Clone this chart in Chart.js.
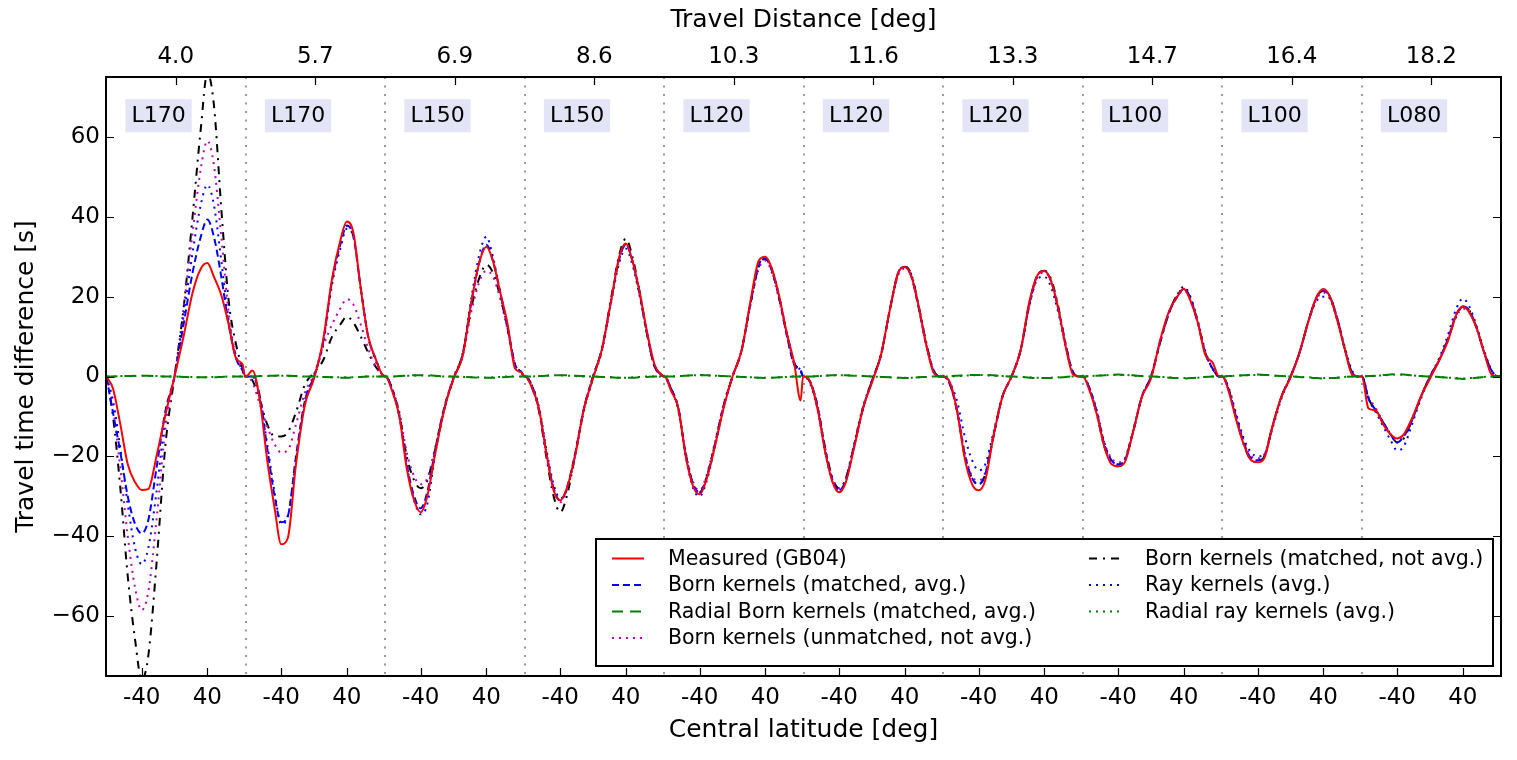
<!DOCTYPE html>
<html>
<head>
<meta charset="utf-8">
<title>Travel time difference vs central latitude</title>
<script src="https://cdn.jsdelivr.net/npm/chart.js@4.4.1/dist/chart.umd.min.js"></script>
<style>
  html, body { margin: 0; padding: 0; background: #fff; }
  canvas { display: block; }
</style>
</head>
<body>
<canvas id="chart" width="1517" height="760"></canvas>
<script>
// latitudes (deg) sampled in every panel
const LATITUDES = [-83, -75, -66, -57, -48, -40, -32, -22, -11, 0, 11, 22, 32, 40, 48, 57, 66, 75, 83, 86];
const DISTANCES = ['4.0', '5.7', '6.9', '8.6', '10.3', '11.6', '13.3', '14.7', '16.4', '18.2'];
const DEGREES = ['L170', 'L170', 'L150', 'L150', 'L120', 'L120', 'L120', 'L100', 'L100', 'L080'];
const LAT_TICKS = [-40, 40];
const TIME_TICKS = [-60, -40, -20, 0, 20, 40, 60];

// one row per panel, values in s
const measured = [
  [0, -3, -12, -22, -26.5, -28.4, -28.2, -20, -9.5, 0, 10, 21, 27, 28.4, 25, 20.4, 13, 4.5, 3, 0],
  [0, 1.5, -6, -21, -33, -42, -40.5, -22, -7, -0.5, 9, 24.5, 34, 38.8, 36, 22, 10, 4.5, 0.5, 0],
  [0, -3.5, -10, -23, -31, -34, -30, -19, -8, -0.5, 5, 19, 29, 32.5, 29, 21, 13, 2, 1, 0],
  [0, -2.5, -8, -19, -28.5, -31, -28, -20, -8, -0.5, 7, 19, 30, 33.3, 29, 21, 11, 3, 0.5, 0],
  [0, -3.5, -8, -20, -27.5, -29.5, -26, -18, -8, 0, 6.5, 19, 29, 30, 27, 20, 11, 3.5, -6, 0],
  [0, -1.5, -8.5, -19, -26.5, -29, -26.5, -18, -8, -1.5, 5.5, 17, 26, 27.4, 25, 17.5, 8, 1, 0, 0],
  [0, -1.5, -9, -20.5, -27, -28.5, -26, -15, -5, 0, 6.5, 19, 25.5, 26.4, 24, 17, 7.5, 0.5, 0, 0],
  [0, -3.5, -9.5, -17.5, -22, -22.5, -21.5, -14, -5, -0.5, 9, 16.4, 20, 21.9, 19, 13.5, 5.5, 3.5, 0, 0],
  [0, -4, -11, -17, -21, -21.5, -20.5, -12.5, -5, -0.3, 6, 14, 20, 21.9, 20, 14, 7, 0.5, 0, 0],
  [0, -8, -8.5, -12, -14.5, -15.5, -14.5, -10.5, -5, -0.5, 4, 9, 15.5, 17.5, 16, 12, 6, 0.5, 0, 0]
];

const bornAvg = [
  [0, -9, -19, -30, -37, -39.3, -36, -23, -8.5, 0, 13, 26, 35, 39.3, 35, 25, 13, 4.5, 1.5, 0],
  [0, 0, -5, -18, -30, -36.5, -35, -20, -6, 0, 8.5, 24, 33, 37.8, 35, 22, 10, 4.5, 0.5, 0],
  [0, -3, -10, -22, -30, -33, -29, -18, -7.5, -0.5, 5.5, 19, 29, 33, 29, 21, 12, 3, 1, 0],
  [0, -2, -8, -19, -28, -31, -28, -19.5, -8, 0, 7, 19, 29.5, 33, 29, 20.5, 10.5, 2.5, 0.5, 0],
  [0, -3, -8, -19.5, -27, -29, -25.5, -17.5, -7.5, 0, 6.5, 18.5, 28, 29.5, 26.5, 19.5, 10.5, 3, 1.5, 0],
  [0, -1.5, -8, -18.5, -26, -28.5, -26, -17.5, -8, -1, 5.5, 17, 26, 27.4, 25, 17, 8, 1.5, 0, 0],
  [0, -2, -9, -19.5, -25.5, -27, -24.5, -15, -5, 0, 6.5, 18.5, 25.5, 26.4, 24, 17, 8, 1, 0, 0],
  [0, -3, -9, -17, -21, -22, -21, -14, -5, 0, 8.5, 16, 20, 22, 19.5, 13.5, 6, 2, 0, 0],
  [0, -3.5, -10.5, -16.5, -20.5, -21, -20, -12.5, -5, 0, 6, 14, 20, 21.5, 20, 14.5, 7, 1, 0, 0],
  [0, -5.5, -8.5, -11.5, -14.5, -16.5, -15, -11, -5, 0, 4, 9.5, 15.5, 17.5, 16.5, 12, 6, 1.5, 0, 0]
];

const radialBorn = [
  [0, 0, 0.1, 0.1, 0.2, 0.2, 0.2, 0.1, 0, 0, -0.1, -0.2, -0.2, -0.2, -0.2, -0.1, 0, 0, 0, 0],
  [0, 0, 0.1, 0.2, 0.2, 0.3, 0.2, 0.1, 0, 0, -0.1, -0.2, -0.3, -0.3, -0.2, -0.1, 0, 0, 0, 0],
  [0, 0, 0.1, 0.2, 0.3, 0.3, 0.3, 0.2, 0, 0, -0.1, -0.2, -0.3, -0.3, -0.3, -0.2, -0.1, 0, 0, 0],
  [0, 0, 0.1, 0.2, 0.3, 0.3, 0.3, 0.2, 0.1, 0, -0.1, -0.2, -0.3, -0.3, -0.3, -0.2, -0.1, 0, 0, 0],
  [0, 0, 0.1, 0.2, 0.3, 0.4, 0.3, 0.2, 0.1, 0, -0.1, -0.2, -0.3, -0.4, -0.3, -0.2, -0.1, 0, 0, 0],
  [0, 0, 0.1, 0.2, 0.3, 0.4, 0.3, 0.2, 0.1, 0, -0.1, -0.2, -0.3, -0.4, -0.3, -0.2, -0.1, 0, 0, 0],
  [0, 0.1, 0.2, 0.3, 0.4, 0.4, 0.4, 0.3, 0.1, 0, -0.1, -0.3, -0.4, -0.4, -0.4, -0.3, -0.1, 0, 0, 0],
  [0, 0.1, 0.2, 0.3, 0.4, 0.5, 0.4, 0.3, 0.1, 0, -0.1, -0.3, -0.4, -0.5, -0.4, -0.3, -0.1, 0, 0, 0],
  [0, 0.1, 0.2, 0.3, 0.4, 0.5, 0.4, 0.3, 0.1, 0, -0.1, -0.3, -0.4, -0.5, -0.4, -0.3, -0.1, 0, 0, 0],
  [0, 0.1, 0.2, 0.4, 0.5, 0.6, 0.5, 0.3, 0.1, 0, -0.1, -0.3, -0.5, -0.6, -0.5, -0.3, -0.1, 0, 0, 0]
];

const bornUnmatched = [
  [0, -8, -23, -40, -53, -58.5, -54, -36, -13, 0, 17, 36, 52, 59, 53, 35, 16, 5, 1.5, 0],
  [0, -1.5, -7, -12.5, -17, -19, -18.5, -12, -4, 0.5, 7.5, 13, 17, 19.4, 18, 13, 7, 2.5, 0.5, 0],
  [0, -3, -9, -19, -25, -27, -25.5, -17.5, -8, 0, 5, 16.5, 24, 26.5, 25, 19.5, 11.5, 3, 1, 0],
  [0, -2, -8, -19, -28, -31.5, -28.5, -19.5, -8, 0, 7, 19, 29.5, 33, 29, 20.5, 10.5, 2.5, 0.5, 0],
  [0, -3, -8, -19, -26.5, -28.5, -25, -17, -7, 0, 6.5, 18, 27, 29, 26, 19, 10.5, 3, 1.5, 0],
  [0, -1.5, -7.5, -18, -25.5, -28, -25.5, -17, -7.5, -1, 5.5, 17, 25.5, 27, 25, 17, 8, 1.5, 0, 0],
  [0, -2, -8.5, -19, -25, -26, -24, -14.5, -5, 0, 6.5, 18, 25, 26, 24, 17, 8, 1, 0, 0],
  [0, -3, -9, -16.5, -20.5, -21.5, -20.5, -13.5, -5, 0, 8.5, 16, 20, 21.5, 19.5, 13.5, 6, 2, 0, 0],
  [0, -3.5, -10, -16, -20, -20.5, -19.5, -12.5, -5, 0, 6, 14, 19.5, 21, 19.5, 14, 7, 1, 0, 0],
  [0, -5, -8, -11.5, -14.5, -16, -15, -11, -5, 0, 4, 9.5, 15, 17, 16, 12, 6, 1.5, 0, 0]
];

const bornNotAvg = [
  [0, -10, -28, -50, -66, -76, -70, -47, -17, 0, 17, 40, 62, 76, 68, 42, 19, 8, 2, 0],
  [0, -1, -6, -12, -15, -15, -14, -9, -2, 1, 4, 10, 13, 15, 13.5, 10, 6, 2.5, 0.5, 0],
  [0, -3, -9.5, -20, -26, -28, -26, -18, -8, -0.5, 5.5, 17.5, 25, 28, 26, 20, 12, 3, 1, 0],
  [0, -2.5, -8.5, -20, -30, -34, -30, -20, -8, 0, 7, 19.5, 30.5, 34.5, 30, 21, 10.5, 2.5, 0.5, 0],
  [0, -3, -8, -19.5, -27, -29, -25.5, -17.5, -7.5, 0, 6.5, 18.5, 27.5, 29.5, 26.5, 19.5, 11, 3.5, 1.5, 0],
  [0, -1.5, -8, -18, -25.5, -28, -25.5, -17.5, -8, -1, 5.5, 17, 26, 27.5, 25.5, 17.5, 8.5, 1.5, 0, 0],
  [0, -2, -9, -20, -25.5, -27, -24.5, -15, -5, 0, 6.5, 18.5, 25.5, 26.5, 24.5, 17.5, 8, 1, 0, 0],
  [0, -3, -9.5, -17.5, -21.5, -22.5, -21, -14, -5, 0, 8.5, 16, 20.5, 22, 19.5, 13.5, 6, 2, 0, 0],
  [0, -3.5, -10.5, -17, -21, -21.5, -20, -12.5, -5, 0, 6, 14, 20, 21.5, 20, 14.5, 7, 1, 0, 0],
  [0, -5.5, -8.5, -11.5, -14.5, -16.5, -15.5, -11, -5, 0, 4, 9.5, 15, 17.5, 16.5, 12, 6, 1.5, 0, 0]
];

const rayAvg = [
  [0, -6, -18, -32, -43, -47, -43, -29, -10, 0, 15, 31, 43, 48, 43, 29, 14, 5, 1.5, 0],
  [0, 0, -5, -17, -29, -37, -35, -21, -6, 0, 8, 23, 32, 37, 35, 22, 10, 4, 0.5, 0],
  [0, -3, -10, -22, -31, -34.5, -32, -19, -8, -0.5, 5.5, 20, 31, 35, 30, 21, 12, 3, 1, 0],
  [0, -2, -7.5, -18, -27, -30.5, -28.5, -20, -8.5, -0.5, 6.5, 18.5, 28.5, 32, 28, 20, 10.5, 2.5, 0.5, 0],
  [0, -3, -8.5, -20, -28, -30, -26.5, -18, -8, 0, 6.5, 18.5, 28, 29.5, 27, 20, 11, 3.5, 1.5, 0],
  [0, -2, -8.5, -19, -26.5, -28.5, -26, -17.5, -8, -1, 5.5, 17, 26, 27.5, 25.5, 17.5, 8.5, 1.5, 0, 0],
  [0, -1.5, -6.5, -15, -21, -23.5, -22, -14, -5, 0, 6.5, 18, 24.5, 25, 22.5, 16, 7.5, 1, 0, 0],
  [0, -3, -8.5, -16.5, -21, -22, -21, -14, -5, 0, 8.5, 16, 20.5, 22.5, 20, 14, 6.5, 2, 0, 0],
  [0, -3, -9.5, -15.5, -19, -20, -19.5, -13, -5.5, 0, 6, 14, 19, 20, 19.5, 14.5, 7.5, 1.5, 0, 0],
  [0, -5.5, -9, -12.5, -16, -18.5, -17.5, -12, -5.5, 0, 4.5, 10.5, 17, 19.5, 17.5, 12.5, 6.5, 1.5, 0, 0]
];

const radialRay = [
  [0, 0, 0.1, 0.1, 0.1, 0.2, 0.1, 0.1, 0, 0, -0.1, -0.1, -0.2, -0.2, -0.1, -0.1, 0, 0, 0, 0],
  [0, 0, 0.1, 0.1, 0.2, 0.2, 0.2, 0.1, 0, 0, -0.1, -0.2, -0.2, -0.2, -0.2, -0.1, 0, 0, 0, 0],
  [0, 0, 0.1, 0.2, 0.2, 0.3, 0.2, 0.1, 0, 0, -0.1, -0.2, -0.2, -0.3, -0.2, -0.1, 0, 0, 0, 0],
  [0, 0, 0.1, 0.2, 0.3, 0.3, 0.2, 0.1, 0, 0, -0.1, -0.2, -0.3, -0.3, -0.2, -0.1, 0, 0, 0, 0],
  [0, 0, 0.1, 0.2, 0.3, 0.3, 0.3, 0.2, 0.1, 0, -0.1, -0.2, -0.3, -0.3, -0.3, -0.2, -0.1, 0, 0, 0],
  [0, 0, 0.1, 0.2, 0.3, 0.3, 0.3, 0.2, 0.1, 0, -0.1, -0.2, -0.3, -0.3, -0.3, -0.2, -0.1, 0, 0, 0],
  [0, 0, 0.1, 0.2, 0.3, 0.4, 0.3, 0.2, 0.1, 0, -0.1, -0.2, -0.3, -0.4, -0.3, -0.2, -0.1, 0, 0, 0],
  [0, 0.1, 0.2, 0.3, 0.4, 0.4, 0.4, 0.2, 0.1, 0, -0.1, -0.2, -0.4, -0.4, -0.4, -0.3, -0.1, 0, 0, 0],
  [0, 0.1, 0.2, 0.3, 0.4, 0.4, 0.4, 0.2, 0.1, 0, -0.1, -0.2, -0.4, -0.4, -0.4, -0.3, -0.1, 0, 0, 0],
  [0, 0.1, 0.2, 0.3, 0.4, 0.5, 0.4, 0.3, 0.1, 0, -0.1, -0.3, -0.4, -0.5, -0.4, -0.3, -0.1, 0, 0, 0]
];

const PANEL_WIDTH = 170;   // latitude span of one panel on the shared x axis
const LAT_START = -83.5;
const FONT = "'DejaVu Sans', sans-serif";
const TITLE_FONT = { size: 25 };

Chart.defaults.font.family = FONT;
Chart.defaults.font.size = 23;
Chart.defaults.color = '#000';

function panelX(panel, lat) {
    return panel * PANEL_WIDTH + lat - LAT_START;
}

function toPoints(rows) {
    const points = [];
    rows.forEach((row, panel) => {
        row.forEach((value, k) => points.push({ x: panelX(panel, LATITUDES[k]), y: value }));
    });
    return points;
}

function lineSet(label, rows, color, dash, order, slot) {
    return {
        label: label,
        data: toPoints(rows),
        borderColor: color,
        borderWidth: 2,
        borderDash: dash,
        order: order,
        legendSlot: slot,
        pointRadius: 0,
        fill: false,
        cubicInterpolationMode: 'monotone'
    };
}

const datasets = [
    lineSet('Measured (GB04)', measured, '#ff0000', [], 2, [0, 0]),
    lineSet('Born kernels (matched, avg.)', bornAvg, '#0000ff', [7, 4], 3, [0, 1]),
    lineSet('Radial Born kernels (matched, avg.)', radialBorn, '#008000', [11, 7], 0, [0, 2]),
    lineSet('Born kernels (unmatched, not avg.)', bornUnmatched, '#bf00bf', [2, 5], 5, [0, 3]),
    lineSet('Born kernels (matched, not avg.)', bornNotAvg, '#000000', [8, 6, 2, 6], 6, [1, 0]),
    lineSet('Ray kernels (avg.)', rayAvg, '#0000ff', [2, 5], 4, [1, 1]),
    lineSet('Radial ray kernels (avg.)', radialRay, '#008000', [2, 5], 1, [1, 2])
];

// dotted panel separators and the Lxxx boxes
function drawPanels(chart) {
    const { ctx, chartArea: a, scales: { x, y } } = chart;
    ctx.save();
    ctx.strokeStyle = '#808080';
    ctx.lineWidth = 1.6;
    ctx.setLineDash([2, 6.5]);
    for (let p = 1; p < DISTANCES.length; p++) {
        const px = Math.round(x.getPixelForValue(p * PANEL_WIDTH));
        ctx.beginPath();
        ctx.moveTo(px, a.top);
        ctx.lineTo(px, a.bottom);
        ctx.stroke();
    }
    ctx.setLineDash([]);
    ctx.font = '22px ' + FONT;
    ctx.textAlign = 'center';
    ctx.textBaseline = 'middle';
    DEGREES.forEach((txt, p) => {
        const cx = x.getPixelForValue(panelX(p, -19.5));
        const cy = y.getPixelForValue(65.3);
        const w = ctx.measureText(txt).width + 12;
        ctx.fillStyle = '#e4e4f7';
        ctx.fillRect(cx - w / 2, cy - 16.5, w, 33);
        ctx.fillStyle = '#000';
        ctx.fillText(txt, cx, cy + 1);
    });
    ctx.restore();
}

function drawLegend(chart) {
    const { ctx, chartArea: a } = chart;
    const w = 897, h = 127;
    const left = a.right - 8 - w;
    const top = a.bottom - 10 - h;
    ctx.save();
    ctx.fillStyle = '#fff';
    ctx.fillRect(left, top, w, h);
    ctx.strokeStyle = '#000';
    ctx.lineWidth = 2;
    ctx.strokeRect(left, top, w, h);
    ctx.font = '20.5px ' + FONT;
    ctx.textAlign = 'left';
    ctx.textBaseline = 'middle';
    chart.data.datasets.forEach(ds => {
        const [col, row] = ds.legendSlot;
        const sx = left + (col ? 493 : 16);
        const sy = top + 19.5 + row * 26.5;
        ctx.strokeStyle = ds.borderColor;
        ctx.lineWidth = ds.borderWidth;
        ctx.setLineDash(ds.borderDash);
        ctx.beginPath();
        ctx.moveTo(sx, sy);
        ctx.lineTo(sx + 32, sy);
        ctx.stroke();
        ctx.setLineDash([]);
        ctx.fillStyle = '#000';
        ctx.fillText(ds.label, sx + 56, sy + 1);
    });
    ctx.restore();
}

// inward ticks on all four sides, then the frame
function drawFrame(chart) {
    const { ctx, chartArea: a, scales } = chart;
    const len = 8;
    ctx.save();
    ctx.strokeStyle = '#000';
    ctx.lineWidth = 1.2;
    ctx.beginPath();
    scales.x.ticks.forEach(t => {
        const px = Math.round(scales.x.getPixelForValue(t.value)) + 0.5;
        ctx.moveTo(px, a.bottom);
        ctx.lineTo(px, a.bottom - len);
    });
    scales.x2.ticks.forEach(t => {
        const px = Math.round(scales.x2.getPixelForValue(t.value)) + 0.5;
        ctx.moveTo(px, a.top);
        ctx.lineTo(px, a.top + len);
    });
    scales.y.ticks.forEach(t => {
        const py = Math.round(scales.y.getPixelForValue(t.value)) + 0.5;
        ctx.moveTo(a.left, py);
        ctx.lineTo(a.left + len, py);
        ctx.moveTo(a.right, py);
        ctx.lineTo(a.right - len, py);
    });
    ctx.stroke();
    ctx.lineWidth = 2;
    ctx.strokeRect(a.left, a.top, a.right - a.left, a.bottom - a.top);
    ctx.restore();
}

const panelPlugin = {
    id: 'panels',
    beforeDatasetsDraw: drawPanels,
    afterDatasetsDraw(chart) {
        drawLegend(chart);
        drawFrame(chart);
    }
};

const xMax = DISTANCES.length * PANEL_WIDTH;
const noGrid = { display: false, drawTicks: false };

new Chart(document.getElementById('chart'), {
    type: 'line',
    data: { datasets: datasets },
    plugins: [panelPlugin],
    options: {
        responsive: false,
        animation: false,
        layout: { padding: { left: 0, right: 16, top: 0, bottom: 0 } },
        plugins: {
            legend: { display: false },
            tooltip: { enabled: false }
        },
        scales: {
            x: {
                type: 'linear',
                position: 'bottom',
                min: 0,
                max: xMax,
                grid: noGrid,
                border: { display: false },
                afterBuildTicks: s => {
                    s.ticks = DISTANCES.flatMap((d, p) => LAT_TICKS.map(lat => ({ value: panelX(p, lat) })));
                },
                afterFit: s => { s.height = 84; },
                ticks: {
                    autoSkip: false,
                    maxRotation: 0,
                    padding: 8,
                    callback: v => String(Math.round(v - Math.floor(v / PANEL_WIDTH) * PANEL_WIDTH + LAT_START))
                },
                title: { display: true, text: 'Central latitude [deg]', font: TITLE_FONT, padding: { top: 0, bottom: 15 } }
            },
            x2: {
                type: 'linear',
                axis: 'x',
                position: 'top',
                min: 0,
                max: xMax,
                grid: noGrid,
                border: { display: false },
                afterBuildTicks: s => {
                    s.ticks = DISTANCES.map((d, p) => ({ value: panelX(p, 0) + 1.5 }));
                },
                afterFit: s => { s.height = 77; },
                ticks: {
                    autoSkip: false,
                    maxRotation: 0,
                    padding: 6,
                    callback: v => DISTANCES[Math.floor(v / PANEL_WIDTH)]
                },
                title: { display: true, text: 'Travel Distance [deg]', font: TITLE_FONT, padding: { top: 5, bottom: 0 } }
            },
            y: {
                type: 'linear',
                min: -75,
                max: 75,
                grid: noGrid,
                border: { display: false },
                afterBuildTicks: s => {
                    s.ticks = TIME_TICKS.map(v => ({ value: v }));
                },
                afterFit: s => { s.width = 106; },
                ticks: {
                    padding: 6,
                    callback: v => v < 0 ? '\u2212' + Math.abs(v) : String(v)
                },
                title: { display: true, text: 'Travel time difference [s]', font: TITLE_FONT, padding: { top: 11, bottom: 0 } }
            }
        }
    }
});
</script>
</body>
</html>
